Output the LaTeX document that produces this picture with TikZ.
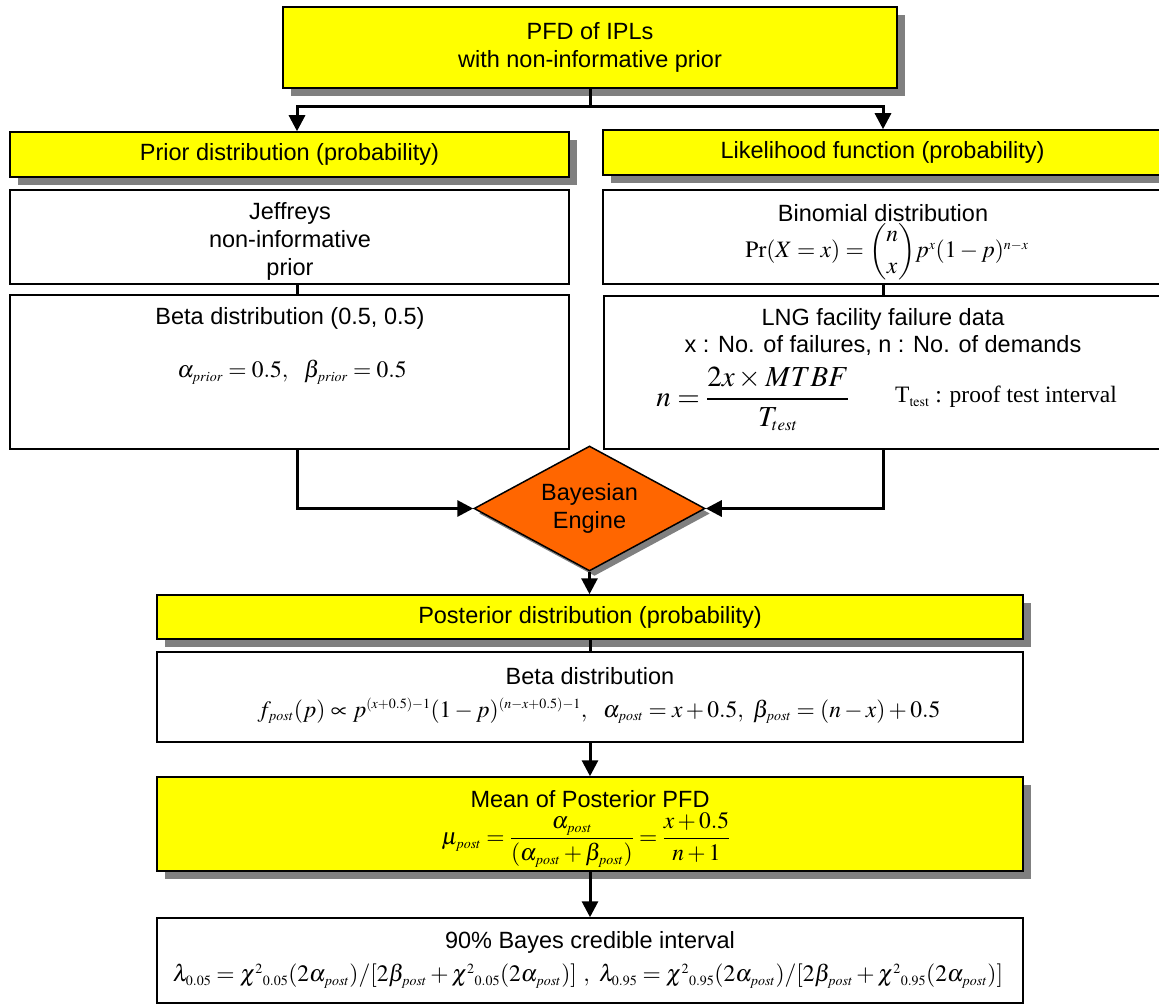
\documentclass[tikz,border=0pt]{standalone}
\usepackage{amsmath}
\usepackage{mathptmx}
\usepackage[no-math]{fontspec}
\setmainfont{Liberation Sans}
\newfontfamily\timesfont{Liberation Serif}
\usetikzlibrary{arrows.meta,shapes.geometric,shadows}
\definecolor{engine}{HTML}{FF6600}
\definecolor{hdr}{HTML}{FFFF00}
\DeclareMathSizes{23.5}{23.5}{14}{11}
\DeclareMathSizes{29}{29}{17}{13}

\begin{document}
\begin{tikzpicture}[x=1pt,y=-1pt,
    boxshadow/.style={drop shadow={shadow xshift=8pt,shadow yshift=-8pt,fill=black!50,opacity=1}},
    txt/.style={inner sep=0pt,font=\fontsize{23.5}{28}\selectfont,align=center},
    ybox/.style={txt,draw,line width=1.5pt,fill=hdr,boxshadow},
    wbox/.style={txt,draw,line width=1.5pt,fill=white},
    link/.style={line width=3pt},
    flow/.style={line width=3pt,-{Triangle[length=16pt,width=16pt]}}]
    \useasboundingbox (0,0) rectangle (1159,1006);

    % Columns of the connectors
    \coordinate (lcol) at (297,0);
    \coordinate (rcol) at (883,0);

    % Top box and the two headers
    \node[ybox,minimum width=614pt,minimum height=81pt] (top) at (590,47.5) {PFD of IPLs\\with non-informative prior};
    \node[ybox,minimum width=559pt,minimum height=45pt] (priorH) at (289.5,154.5) {Prior distribution (probability)};
    \node[ybox,minimum width=559pt,minimum height=45pt] (likeH) at (882.5,152.5) {Likelihood function (probability)};

    % Prior side
    \node[wbox,minimum width=559pt,minimum height=94pt] (jeff) at (289.5,237) {};
    \node[txt] (jeffT) at (290,241) {Jeffreys\\non-informative\\prior};
    \node[wbox,minimum width=559pt,minimum height=154pt] (betaP) at (289.5,372) {};
    \node[txt] (betaT) at (290,318) {Beta distribution (0.5, 0.5)};
    \node[txt] (betaF) at (292,372) {$\alpha_{prior}=0.5,\ \ \beta_{prior}=0.5$};

    % Likelihood side
    \node[wbox,minimum width=559pt,minimum height=94pt] (binom) at (882.5,237) {};
    \node[txt] (binomT) at (883,213) {Binomial distribution};
    \node[txt] (binomF) at (887,252) {$\Pr(X=x)=\dbinom{n}{x}p^{x}(1-p)^{n-x}$};
    \node[wbox,minimum width=558pt,minimum height=153pt] (lng) at (883,372.5) {};
    \node[txt,font=\fontsize{23.5}{27}\selectfont] (lngT) at (883,331.5) {LNG facility failure data\\x : No. of failures, n : No. of demands};
    \node[txt,font=\fontsize{29}{34}\selectfont] (lngF) at (753,399) {$n=\dfrac{2x\times MTBF}{T_{test}}$};
    \node[txt,font=\fontsize{23.5}{28}\timesfont] (lngI) at (1006,397) {T$_{\mathrm{test}}$ : proof test interval};

    % Bayesian engine
    \node[txt,diamond,aspect=1.85,minimum width=231pt,minimum height=125pt,draw,line width=1.5pt,fill=engine,
        drop shadow={shadow xshift=5pt,shadow yshift=-5pt,fill=black!50,opacity=1}] (bayes) at (589.5,508.5) {Bayesian\\Engine};

    % Posterior part
    \node[ybox,minimum width=866pt,minimum height=44pt] (postH) at (590,617) {Posterior distribution (probability)};
    \node[wbox,minimum width=866pt,minimum height=90pt] (postB) at (590,697) {};
    \node[txt] (postT) at (590,676) {Beta distribution};
    \node[txt] (postF) at (599,711) {$f_{post}(p)\propto p^{(x+0.5)-1}(1-p)^{(n-x+0.5)-1},\ \ \alpha_{post}=x+0.5,\ \beta_{post}=(n-x)+0.5$};
    \node[ybox,minimum width=866pt,minimum height=94pt] (mean) at (590,824) {};
    \node[txt] (meanT) at (590,799) {Mean of Posterior PFD};
    \node[txt] (meanF) at (586,840) {$\mu_{post}=\dfrac{\alpha_{post}}{(\alpha_{post}+\beta_{post})}=\dfrac{x+0.5}{n+1}$};
    \node[wbox,minimum width=866pt,minimum height=85pt] (cred) at (590,960.5) {};
    \node[txt] (credT) at (590,942) {90\% Bayes credible interval};
    \node[txt] (credF) at (588,976) {$\lambda_{0.05}=\chi^{2}{}_{0.05}(2\alpha_{post})/[2\beta_{post}+\chi^{2}{}_{0.05}(2\alpha_{post})]\ ,\ \lambda_{0.95}=\chi^{2}{}_{0.95}(2\alpha_{post})/[2\beta_{post}+\chi^{2}{}_{0.95}(2\alpha_{post})]$};

    % Connectors
    \coordinate (split) at (590,107);
    \draw[link] (top.south) -- (split);
    \draw[flow] (split) -| (lcol |- priorH.north);
    \draw[flow] (split) -| (rcol |- likeH.north);
    \draw[link] (lcol |- jeff.south) -- (lcol |- betaP.north);
    \draw[link] (rcol |- binom.south) -- (rcol |- lng.north);
    \draw[flow] (lcol |- betaP.south) |- (bayes.west);
    \draw[flow] (rcol |- lng.south) |- (bayes.east);
    \draw[flow] (bayes.south) -- (bayes.south |- postH.north);
    \draw[link] (postH.south) -- (postB.north);
    \draw[flow] (postB.south) -- (mean.north);
    \draw[flow] (mean.south) -- (cred.north);

\end{tikzpicture}
\end{document}
